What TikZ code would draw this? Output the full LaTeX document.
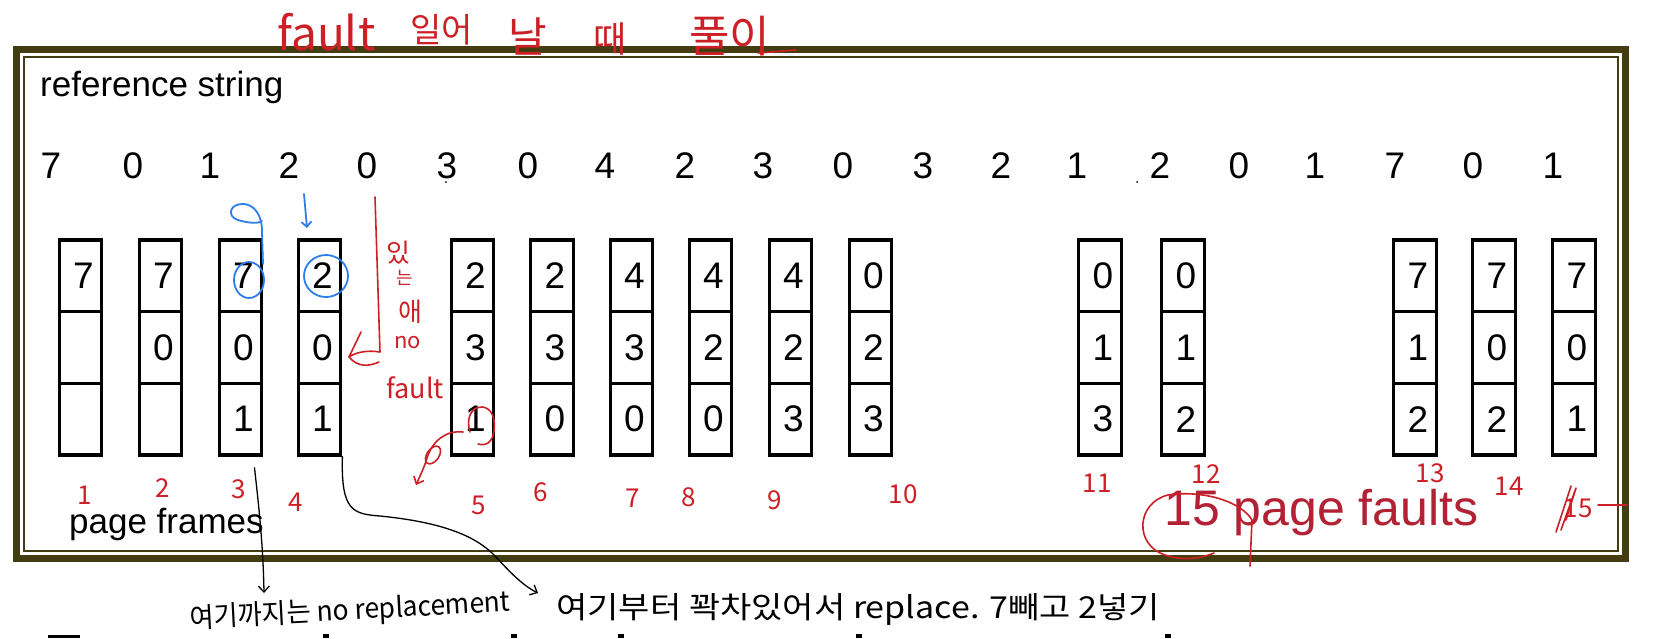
\documentclass[tikz,border=0pt]{standalone}
\usepackage{graphicx}
\usepackage{fontspec}
\setmainfont{Liberation Sans}
\newfontfamily\krfont{Noto Sans CJK KR}
\usetikzlibrary{arrows.meta}
\definecolor{frameol}{RGB}{66,62,18}
\definecolor{inkred}{RGB}{205,32,38}
\definecolor{inkblue}{RGB}{45,125,235}
\definecolor{faultred}{RGB}{178,34,52}
\tikzset{
  cell/.style={draw=black, line width=3.3pt, minimum width=42.5pt, minimum height=71.7pt, inner sep=0pt, font={\fontsize{37}{37}\selectfont}},
  refnum/.style={font={\fontsize{37}{37}\selectfont}, anchor=base, inner sep=0pt},
  biglabel/.style={font={\fontsize{35}{35}\selectfont}, anchor=base west, inner sep=0pt},
  hand/.style={font={\krfont\fontsize{26}{26}\selectfont}, inner sep=0pt},
  redhand/.style={text=inkred, anchor=base west, inner sep=0pt},
  rednum/.style={hand, text=inkred, font={\krfont\fontsize{26}{26}\selectfont}},
  redink/.style={draw=inkred, line width=1.6pt, line cap=round, line join=round},
  blueink/.style={draw=inkblue, line width=1.8pt, line cap=round, line join=round},
  blackink/.style={draw=black, line width=1.3pt, line cap=round, line join=round},
  barb/.style={-{Straight Barb[length=6pt,width=11pt]}},
}
\newcommand{\kr}[1]{\krfont\fontsize{#1}{#1}\selectfont}
\begin{document}
\begin{tikzpicture}[x=1pt,y=-1pt]
\useasboundingbox (0,0) rectangle (1670,638);
\fill[white] (0,0) rectangle (1670,638);
% frame
\draw[frameol, line width=7pt] (16.5,49.5) rectangle (1625.5,558.5);
\draw[frameol, line width=1.5pt] (24,57) rectangle (1618,551);
% labels
\node[biglabel] (refstr) at (40,96) {reference string};
\node[biglabel] (pframes) at (69,533) {page frames};
\node[font={\fontsize{50}{50}\selectfont}, text=faultred, anchor=base west, inner sep=0pt] (faults) at (1164,525) {15 page faults};
% reference string
\foreach \v/\x [count=\k] in {7/51,0/133,1/210,2/289,0/367,3/447,0/528,4/605,2/685,3/763,0/843,3/923,2/1001,1/1077,2/1160,0/1239,1/1315,7/1395,0/1473,1/1553}
  \node[refnum] (r\k) at (\x,178) {\v};
\fill (446,182) circle (1pt);
\fill (1137,182) circle (1pt);
% frames
\foreach \i/\cx/\a/\b/\c in {1/80.5/7/{}/{},2/160.5/7/0/{},3/240.5/7/0/1,4/319.5/2/0/1,5/472.5/2/3/1,6/552/2/3/0,7/631.5/4/3/0,8/710.5/4/2/0,9/790.5/4/2/3,10/870.5/0/2/3,11/1100/0/1/3,12/1183/0/1/2,13/1415/7/1/2,14/1494/7/0/2,15/1574/7/0/1}{
  \node[cell] (b\i a) at (\cx,275.8) {\hspace*{6pt}\a};
  \node[cell] (b\i b) at (\cx,347.5) {\hspace*{6pt}\b};
  \node[cell] (b\i c) at (\cx,419.2) {\hspace*{6pt}\c};
}
% red handwritten count under frames
\foreach \n/\x/\y in {1/85/495,2/163/488,3/239/489,4/296/502,5/479/505,6/541/492,7/633/498,8/689/497,9/775/500,10/903/494,11/1097/483,12/1206/474,13/1430/473,14/1509/486}
  \node[rednum] (h\n) at (\x,\y) {\n};
\node[rednum] (h15) at (1578,508) {15};
\draw[redink] (1556,532) -- (1571,486);
\draw[redink] (1561,530) -- (1576,488) -- (1566,520);
\draw[redink] (1598,505) -- (1627,505);
% top red note
\node[redhand, font={\kr{46}}] (t1) at (277,50) {fault};
\node[redhand, font={\kr{34}}] (t2) at (410,42) {일어};
\node[redhand, font={\kr{42}}] (t3) at (508,52) {날};
\node[redhand, font={\kr{36}}] (t4) at (593,52) {때};
\node[redhand, font={\kr{44}}] (t5) at (689,52) {풀이};
\draw[redink] (758,53) -- (796,50);
% red vertical note
\node[redhand, font={\kr{26}}] (v1) at (386,262) {있};
\node[redhand, font={\kr{18}}] (v2) at (396,284) {는};
\node[redhand, font={\kr{26}}] (v3) at (398,321) {애};
\node[redhand, font={\kr{22}}] (v4) at (394,348) {no};
\node[redhand, font={\kr{27}}] (v5) at (386,398) {fault};
\coordinate (vtop) at (375,197);
\coordinate (vtip) at (349,357);
\draw[redink] (vtop) -- (380,352) .. controls (368,350) and (356,352) .. (vtip) -- (361,332);
\draw[redink] (vtip) .. controls (358,368) and (370,366) .. (379,362);
% red circle on box 5 and arrow
\draw[redink] (470,432) .. controls (462,405) and (490,398) .. (494,420) .. controls (496,440) and (488,447) .. (478,444);
\coordinate (rtip) at (416,485);
\draw[redink, barb] (463,432) .. controls (445,430) and (432,442) .. (427,458) .. controls (424,468) and (420,476) .. (rtip);
\draw[redink, rotate around={-35:(433,455)}] (433,455) ellipse [x radius=6pt, y radius=10pt];
% red circle around 15
\draw[redink] (1250,566) -- (1252,520) .. controls (1240,500) and (1200,490) .. (1168,495) .. controls (1136,503) and (1134,545) .. (1165,555) .. controls (1185,562) and (1205,557) .. (1214,553);
% blue marks
\draw[blueink] (326,276) ellipse [x radius=22pt, y radius=21pt];
\draw[blueink] (249,280) ellipse [x radius=15pt, y radius=18pt];
\draw[blueink] (263,264) -- (262,232) .. controls (262,214) and (254,205) .. (244,204) .. controls (230,203) and (226,216) .. (238,220) .. controls (248,223) and (258,224) .. (262,221);
\draw[blueink, -{Straight Barb[length=5pt,width=10pt]}] (304,194) -- (307,228);
% black arrows
\draw[blackink, barb] ([xshift=14pt,yshift=-11pt]b3c.south) .. controls (258,500) and (263,540) .. (264,593);
\draw[blackink, barb] (b4c.south east) .. controls (341,510) and (352,514) .. (380,516) .. controls (440,522) and (475,535) .. (495,556) .. controls (510,572) and (522,585) .. (538,593);
% bottom handwritten notes
\node[hand, anchor=base west, rotate=3] (note1) at (190,628) {\resizebox{321pt}{23pt}{여기까지는 no replacement}};
\node[hand, anchor=base west] (note2) at (556,618) {\resizebox{604pt}{25pt}{여기부터 꽉차있어서 replace. 7빼고 2넣기}};
% cut-off glyph tops at the bottom edge
\fill (48,635) rectangle (80,638);
\fill (323,634) rectangle (329,638);
\fill (511,634) rectangle (517,638);
\fill (618,634) rectangle (624,638);
\fill (856,634) rectangle (862,638);
\fill (1165,634) rectangle (1171,638);
\end{tikzpicture}
\end{document}
